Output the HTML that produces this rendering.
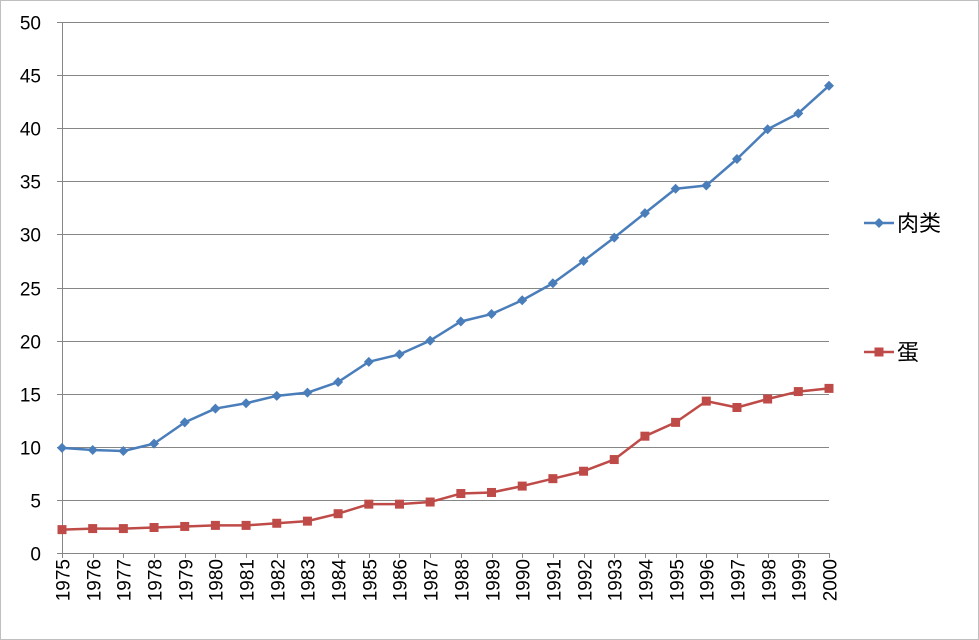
<!DOCTYPE html>
<html><head><meta charset="utf-8"><style>
html,body{margin:0;padding:0;background:#fff;}
svg{display:block;font-family:"Liberation Sans","Noto Sans CJK SC",sans-serif;}
</style></head><body>
<svg id="chart" width="979" height="640">
<rect x="0.5" y="0.5" width="978" height="639" fill="#fff" stroke="#bfbfbf"/>
<g id="grid"></g><g id="axes"></g><g id="series"></g><g id="legend"></g>
</svg>
<script>
const years = ["1975","1976","1977","1978","1979","1980","1981","1982","1983","1984","1985","1986","1987","1988","1989","1990","1991","1992","1993","1994","1995","1996","1997","1998","1999","2000"];
const meat = [9.9,9.7,9.6,10.3,12.3,13.6,14.1,14.8,15.1,16.1,18.0,18.7,20.0,21.8,22.5,23.8,25.4,27.5,29.7,32.0,34.3,34.6,37.1,39.9,41.4,44.0];
const egg = [2.2,2.3,2.3,2.4,2.5,2.6,2.6,2.8,3.0,3.7,4.6,4.6,4.8,5.6,5.7,6.3,7.0,7.7,8.8,11.0,12.3,14.3,13.7,14.5,15.2,15.5];
const yTicks = [0,5,10,15,20,25,30,35,40,45,50];
const seriesNames = ["肉类","蛋"];

const NS="http://www.w3.org/2000/svg";
const X0=62,X1=829,Y0=553,Y1=22,YMAX=50;
const xs=i=>X0+(X1-X0)*i/(years.length-1);
const ys=v=>Y0-(Y0-Y1)*v/YMAX;
function mk(tag,attrs,parent){const e=document.createElementNS(NS,tag);for(const k in attrs)e.setAttribute(k,attrs[k]);parent.appendChild(e);return e;}
const grid=document.getElementById('grid'),axes=document.getElementById('axes'),ser=document.getElementById('series'),leg=document.getElementById('legend');
yTicks.forEach(t=>{
  const y=Math.round(ys(t))+0.5;
  const l=mk('line',{x1:X0,x2:X1,y1:y,y2:y,stroke:t===0?'#868686':'#868686','stroke-width':1},grid);
  
  
  const tk=mk('line',{x1:X0-5,x2:X0,y1:y,y2:y,stroke:'#868686'},axes);
  
  
  const tx=mk('text',{x:41,y:y+7,'text-anchor':'end','font-size':19,fill:'#000'},axes);
  tx.textContent=t;
  
  
});
const ya=mk('line',{x1:X0+0.5,x2:X0+0.5,y1:Y1,y2:Y0,stroke:'#868686'},axes);


years.forEach((yr,i)=>{
  const x=Math.round(xs(i))+0.5;
  const tk=mk('line',{x1:x,x2:x,y1:Y0,y2:Y0+5,stroke:'#868686'},axes);
  
  
  const tx=mk('text',{x:0,y:0,'text-anchor':'end','font-size':19,fill:'#000',transform:`translate(${x+7},559) rotate(-90)`},axes);
  tx.textContent=yr;
  
  
});
function drawSeries(vals,color,marker,name){
  const g=mk('g',{},ser);
  
  
  const p=mk('polyline',{points:vals.map((v,i)=>xs(i)+','+ys(v)).join(' '),fill:'none',stroke:color,'stroke-width':2.5,'stroke-linejoin':'round'},g);
  
  
  vals.forEach((v,i)=>{
    const x=xs(i),y=ys(v);let m;
    if(marker==='d')m=mk('polygon',{points:`${x},${y-5} ${x+5},${y} ${x},${y+5} ${x-5},${y}`,fill:color},g);
    else m=mk('rect',{x:x-4.5,y:y-4.5,width:9,height:9,fill:color},g);
    
    
  });
}
drawSeries(meat,'#4a7ebb','d','meat');
drawSeries(egg,'#be4b48','s','egg');
function legendEntry(y,color,marker,label,name){
  const g=mk('g',{},leg);
  
  
  mk('line',{x1:864,x2:894,y1:y,y2:y,stroke:color,'stroke-width':2.5},g);
  if(marker==='d')mk('polygon',{points:`879,${y-5} 884,${y} 879,${y+5} 874,${y}`,fill:color},g);
  else mk('rect',{x:874.5,y:y-4.5,width:9,height:9,fill:color},g);
  const t=mk('text',{x:897,y:y+8,'font-size':22,fill:'#000'},g);
  t.textContent=label;
}
legendEntry(223,'#4a7ebb','d',seriesNames[0],'meat');
legendEntry(352,'#be4b48','s',seriesNames[1],'egg');
</script>
</body></html>
